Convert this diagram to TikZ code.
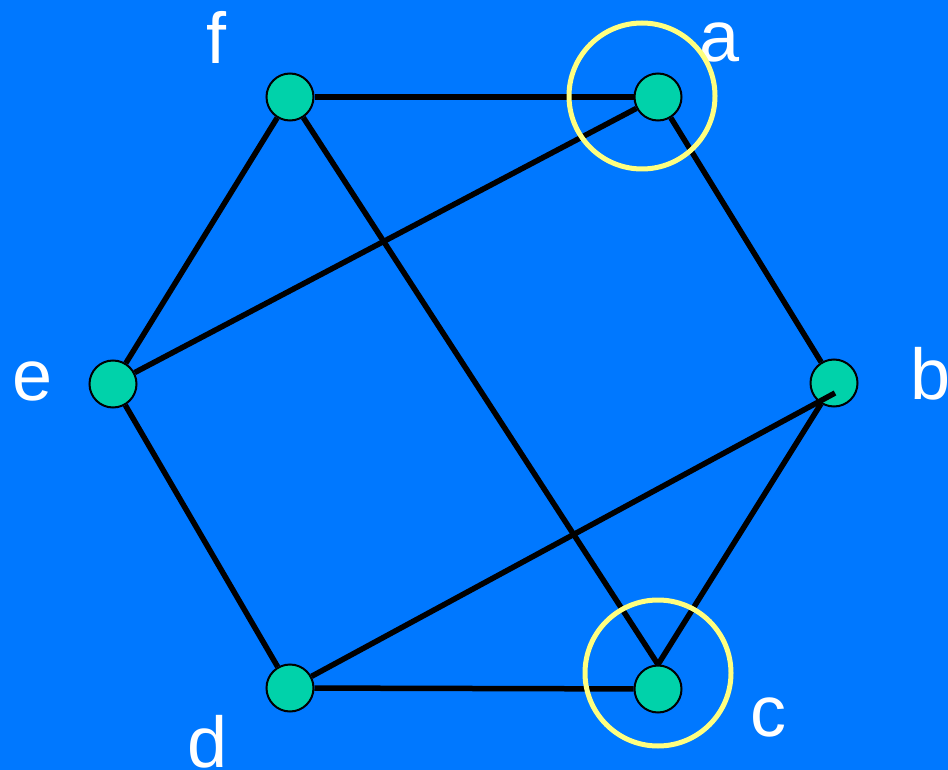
\documentclass[tikz,border=0pt]{standalone}
\usepackage{fontspec}
\setmainfont{Liberation Sans}
\definecolor{bgblue}{RGB}{0,120,255}
\definecolor{vertgreen}{RGB}{0,210,170}
\definecolor{ringyellow}{RGB}{255,255,128}
\tikzset{
  vert/.style={shape=circle, draw=black, line width=2pt, fill=vertgreen, minimum size=47pt, inner sep=0pt},
  edge/.style={line width=5.5pt, black},
  ring/.style={draw=ringyellow, line width=5pt},
  lbl/.style={text=white, inner sep=0pt, font=\fontsize{72}{72}\selectfont}
}
\begin{document}
\begin{tikzpicture}[x=1pt, y=-1pt]
	% Background:
	\fill[bgblue] (0, 0) rectangle (948, 770);
	\useasboundingbox (0, 0) rectangle (948, 770);
	% Vertices and labels:
	\node[vert] (a) at (658, 97){};
	\node[vert] (b) at (834, 383){};
	\node[vert] (c) at (658, 689){};
	\node[vert] (d) at (290, 688){};
	\node[vert] (e) at (113, 384){};
	\node[vert] (f) at (290, 97){};
	\node[lbl] (la) at (720, 42){a};
	\node[lbl] (lb) at (931, 374){b};
	\node[lbl] (lc) at (768, 717){c};
	\node[lbl] (ld) at (208, 742){d};
	\node[lbl] (le) at (33, 381){e};
	\node[lbl] (lf) at (216, 37){f};
	% Edges:
	\draw[edge] (f) -- (a);
	\draw[edge] (a) -- (b);
	\draw[edge] (b) -- (c.north);
	\draw[edge] (c) -- (d);
	\draw[edge] (d) -- (e);
	\draw[edge] (e) -- (f);
	\draw[edge] (e) -- (a);
	\draw[edge] (f) -- (c.north);
	\draw[edge] (d) -- ([xshift=1pt, yshift=-10pt]b.center);
	% Highlight rings:
	\node[ring, circle, minimum size=146pt, inner sep=0pt] (ra) at (642, 96){};
	\node[ring, circle, minimum size=146pt, inner sep=0pt] (rc) at (658, 673){};
\end{tikzpicture}
\end{document}
